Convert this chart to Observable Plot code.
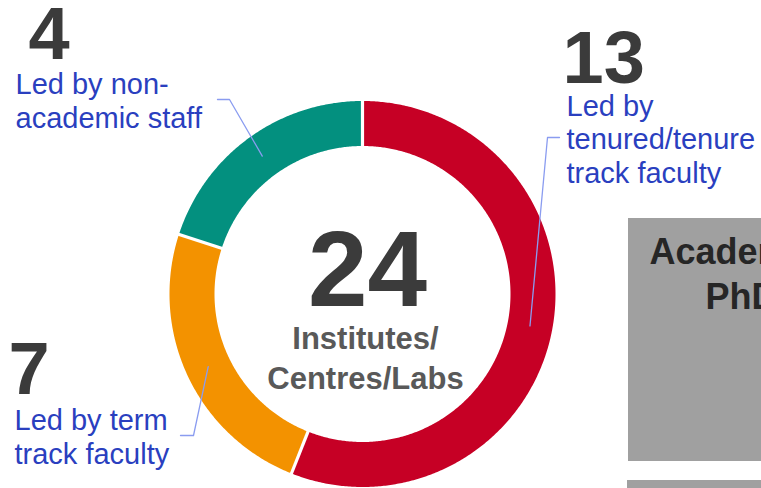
<!DOCTYPE html>
<html>
<head>
<meta charset="utf-8">
<script src="https://cdn.jsdelivr.net/npm/d3@7"></script>
<script src="https://cdn.jsdelivr.net/npm/@observablehq/plot@0.6"></script>
<style>
  html, body { margin: 0; padding: 0; background: #fff; overflow: hidden; }
  #chart svg { display: block; overflow: hidden; }
</style>
</head>
<body>
<div id="chart"></div>
<script>
// ---------- data ----------
const categories = ["tenured", "term", "nonacademic"];
const counts = [13, 7, 4];
const labelTexts = ["Led by\ntenured/tenure\ntrack faculty", "Led by term\ntrack faculty", "Led by non-\nacademic staff"];
const arcShares = [56, 24, 20];               // slice sizes as drawn in the picture (%)
const sliceColors = ["#c60025", "#f39200", "#03907f"];
const totalCount = 24;
const centerLabel = "Institutes/\nCentres/Labs";
const panelTitle = ["Academic", "PhD"];       // neighbouring (cropped) panel

// ---------- layout ----------
const W = 761, H = 488;
const donut = {cx: 362, cy: 293.5, outer: 193, inner: 148};
const numberPos = [[562, 82], [8, 393], [28, 58]];
const labelPos = [[566, 182], [14, 463], [15, 127]];       // baseline of last line
const leaderElbow = [[[559, 137], [547, 137]], [[180, 435], [193, 435]], [[217, 99], [229, 99]]];
const font = "'Liberation Sans', Arial, Helvetica, sans-serif";

// ---------- geometry from data ----------
const pie = d3.pie().sort(null).value(d => d.share)(categories.map((c, i) => ({cat: c, share: arcShares[i]})));
const polar = (a, r) => [donut.cx + r * Math.sin(a), donut.cy - r * Math.cos(a)];

const slicePts = pie.map(p => {
  const n = Math.max(8, Math.ceil((p.endAngle - p.startAngle) / (Math.PI / 360)));
  const pts = [];
  for (let k = 0; k <= n; k++) {
    const a = p.startAngle + (p.endAngle - p.startAngle) * k / n;
    const [x, y] = polar(a, donut.outer); pts.push({x, y});
  }
  for (let k = n; k >= 0; k--) {
    const a = p.startAngle + (p.endAngle - p.startAngle) * k / n;
    const [x, y] = polar(a, donut.inner); pts.push({x, y});
  }
  return pts;
});

const separators = pie.map(p => {
  const [x1, y1] = polar(p.startAngle, donut.inner - 3);
  const [x2, y2] = polar(p.startAngle, donut.outer + 3);
  return {x1, y1, x2, y2};
});

const leaders = pie.flatMap((p, i) => {
  const mid = (p.startAngle + p.endAngle) / 2;
  const [x, y] = polar(mid, (donut.outer + donut.inner) / 2);
  return [...leaderElbow[i].map(([ex, ey]) => ({cat: categories[i], x: ex, y: ey})), {cat: categories[i], x, y}];
});

const numberRows = categories.map((c, i) => ({cat: c, n: counts[i], x: numberPos[i][0], y: numberPos[i][1]}));
const labelRows = categories.map((c, i) => ({cat: c, t: labelTexts[i], x: labelPos[i][0], y: labelPos[i][1]}));

const panels = [{x1: 628, x2: W, y1: 218, y2: 461}, {x1: 627, x2: W, y1: 480, y2: H}];
const panelText = [{t: panelTitle[0], x: 649, y: 263}, {t: panelTitle[1], x: 705, y: 308}];

const chart = Plot.plot({
  width: W, height: H, margin: 0,
  x: {domain: [0, W], range: [0, W], axis: null},
  y: {domain: [0, H], range: [0, H], axis: null},
  style: {fontFamily: font, background: "#fff", overflow: "hidden"},
  marks: [
    ...slicePts.map((pts, i) => Plot.line(pts, {x: "x", y: "y", fill: sliceColors[i], stroke: "none"})),
    Plot.link(separators, {x1: "x1", y1: "y1", x2: "x2", y2: "y2", stroke: "#ffffff", strokeWidth: 3.2}),
    Plot.line(leaders, {x: "x", y: "y", z: "cat", stroke: "#8a9cf0", strokeWidth: 1.3}),
    Plot.text(numberRows, {x: "x", y: "y", text: d => String(d.n), textAnchor: "start", lineAnchor: "bottom",
      fontSize: 74, fontWeight: "bold", fill: "#3b3b3b"}),
    Plot.text(labelRows, {x: "x", y: "y", text: "t", textAnchor: "start", lineAnchor: "bottom",
      fontSize: 29, lineHeight: 1.15, fill: "#2a3fbf"}),
    Plot.text([totalCount], {x: () => donut.cx + 5, y: () => 305, text: d => String(d), textAnchor: "middle", lineAnchor: "bottom",
      fontSize: 107, fontWeight: "bold", fill: "#3b3b3b"}),
    Plot.text([centerLabel], {x: () => donut.cx + 3, y: () => 388, text: d => d, textAnchor: "middle", lineAnchor: "bottom",
      fontSize: 31, lineHeight: 1.26, fontWeight: "bold", fill: "#595959"}),
    Plot.rect(panels, {x1: "x1", x2: "x2", y1: "y1", y2: "y2", fill: "#a0a0a0"}),
    Plot.text(panelText, {x: "x", y: "y", text: "t", textAnchor: "start", lineAnchor: "bottom",
      fontSize: 36, fontWeight: "bold", fill: "#262626"})
  ]
});
document.getElementById("chart").appendChild(chart);
</script>
</body>
</html>
